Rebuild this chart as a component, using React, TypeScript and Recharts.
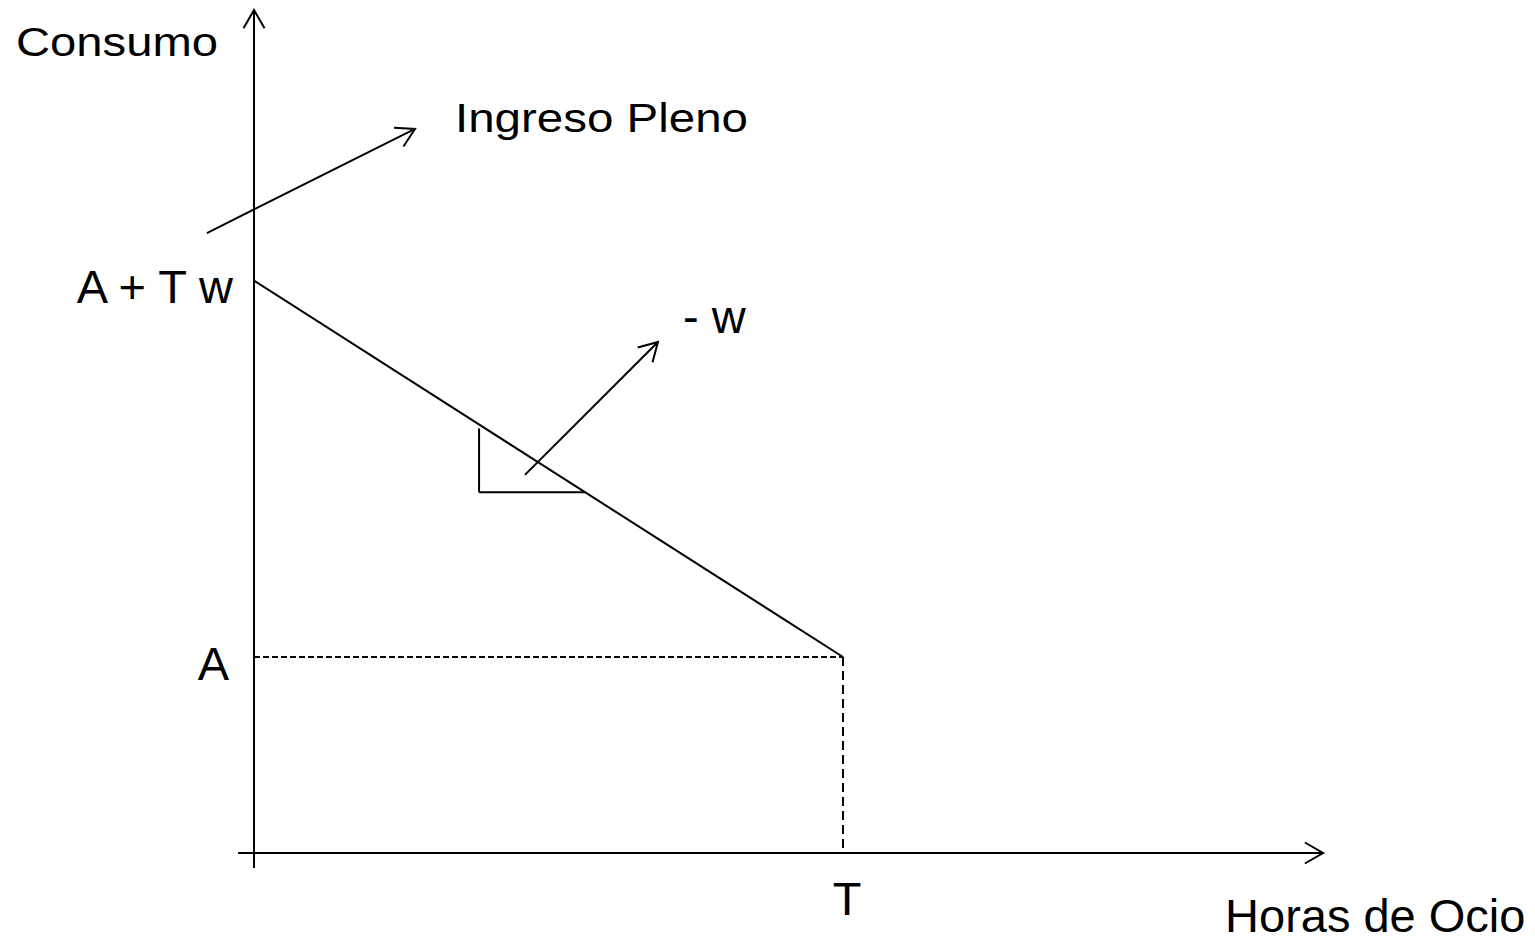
import { LineChart, Line, XAxis, YAxis, ReferenceLine, ReferenceDot } from 'recharts';

// restriccion presupuestaria: horas totales, ingreso no laboral, salario
const T = 24;
const A = 100;
const w = 8;

const budgetLine = [{ x: 0, y: A + T * w }, { x: T, y: A }];
const guideA = [{ x: 0, y: A }, { x: T, y: A }];
const guideT = [{ x: T, y: A }, { x: T, y: 0 }];

// extremos de los ejes y de las flechas (unidades del grafico)
const xAxisEnds = [-0.65, 43.56];
const yAxisEnds = [-7.65, 430.1];
const ingresoArrow = [{ x: -1.92, y: 316.3 }, { x: 6.56, y: 369.4 }];
const slopeArrow = [{ x: 11.04, y: 192.9 }, { x: 16.46, y: 260.7 }];
const triangleX = [9.17, 13.49];

const axisTitles = ['Consumo', 'Horas de Ocio'];
const tickLabels = ['A + T w', 'A', 'T'];
const notes = ['Ingreso Pleno', '- w'];

const budget = (x: number) => A + T * w - w * x;

const FONT = '"Liberation Sans", Arial, sans-serif';

const arrowShape = (p: any) => {
    const { x1, y1, x2, y2 } = p;
    const ang = Math.atan2(y2 - y1, x2 - x1);
    const len = 21;
    const spread = Math.PI / 6;
    const a1 = ang + Math.PI - spread;
    const a2 = ang + Math.PI + spread;
    return (
        <g>
            <line x1={x1} y1={y1} x2={x2} y2={y2} stroke='#000' strokeWidth={2} />
            <polyline
                points={`${x2 + len * Math.cos(a1)},${y2 + len * Math.sin(a1)} ${x2},${y2} ${x2 + len * Math.cos(a2)},${y2 + len * Math.sin(a2)}`}
                fill='none' stroke='#000' strokeWidth={2} />
        </g>
    );
};

const textShape = (text: string, dx: number, dy: number, anchor: string, size = 47, textLength?: number) =>
    (p: any) => (
        <text x={p.cx + dx} y={p.cy + dy} textAnchor={anchor} fontSize={size} fontFamily={FONT} fill='#000'
            textLength={textLength} lengthAdjust={textLength ? 'spacingAndGlyphs' : undefined}>
            {text}
        </text>
    );

const lineProps = { stroke: '#000', strokeWidth: 2, dot: false, activeDot: false, isAnimationActive: false, strokeLinecap: 'butt' as const };

export default function App() {
    return (
        <div style={{ position: 'absolute', left: 0, top: 0 }}>
            <LineChart width={1535} height={946} margin={{ top: 0, right: 0, bottom: 0, left: 0 }}>
                <XAxis dataKey='x' type='number' domain={[-10.35, 52.196]} allowDataOverflow hide />
                <YAxis type='number' domain={[-47.45, 435.2]} allowDataOverflow hide />

                <ReferenceLine segment={[{ x: 0, y: yAxisEnds[0] }, { x: 0, y: yAxisEnds[1] }]} shape={arrowShape} />
                <ReferenceLine segment={[{ x: xAxisEnds[0], y: 0 }, { x: xAxisEnds[1], y: 0 }]} shape={arrowShape} />

                <Line data={guideA} dataKey='y' strokeDasharray='6 3' {...lineProps} />
                <Line data={guideT} dataKey='y' strokeDasharray='9 5' {...lineProps} />
                <Line data={budgetLine} dataKey='y' {...lineProps} />

                {/* triangulo de pendiente */}
                <ReferenceLine segment={[{ x: triangleX[0], y: budget(triangleX[1]) }, { x: triangleX[0], y: budget(triangleX[0]) - 2 }]} stroke='#000' strokeWidth={2} />
                <ReferenceLine segment={[{ x: triangleX[0], y: budget(triangleX[1]) }, { x: triangleX[1], y: budget(triangleX[1]) }]} stroke='#000' strokeWidth={2} />

                <ReferenceLine segment={ingresoArrow} shape={arrowShape} />
                <ReferenceLine segment={slopeArrow} shape={arrowShape} />

                <ReferenceDot x={0} y={yAxisEnds[1]} r={0} fill='none' stroke='none' shape={textShape(axisTitles[0], -238, 46, 'start', 41, 202)} />
                <ReferenceDot x={xAxisEnds[1]} y={0} r={0} fill='none' stroke='none' shape={textShape(axisTitles[1], -98, 79, 'start')} />
                <ReferenceDot x={0} y={A + T * w} r={0} fill='none' stroke='none' shape={textShape(tickLabels[0], -21, 22, 'end')} />
                <ReferenceDot x={0} y={A} r={0} fill='none' stroke='none' shape={textShape(tickLabels[1], -25, 23, 'end')} />
                <ReferenceDot x={T} y={0} r={0} fill='none' stroke='none' shape={textShape(tickLabels[2], 4, 62, 'middle')} />
                <ReferenceDot x={ingresoArrow[1].x} y={ingresoArrow[1].y} r={0} fill='none' stroke='none' shape={textShape(notes[0], 40, 3, 'start', 41, 293)} />
                <ReferenceDot x={slopeArrow[1].x} y={slopeArrow[1].y} r={0} fill='none' stroke='none' shape={textShape(notes[1], 25, -9, 'start')} />
            </LineChart>
        </div>
    );
}
